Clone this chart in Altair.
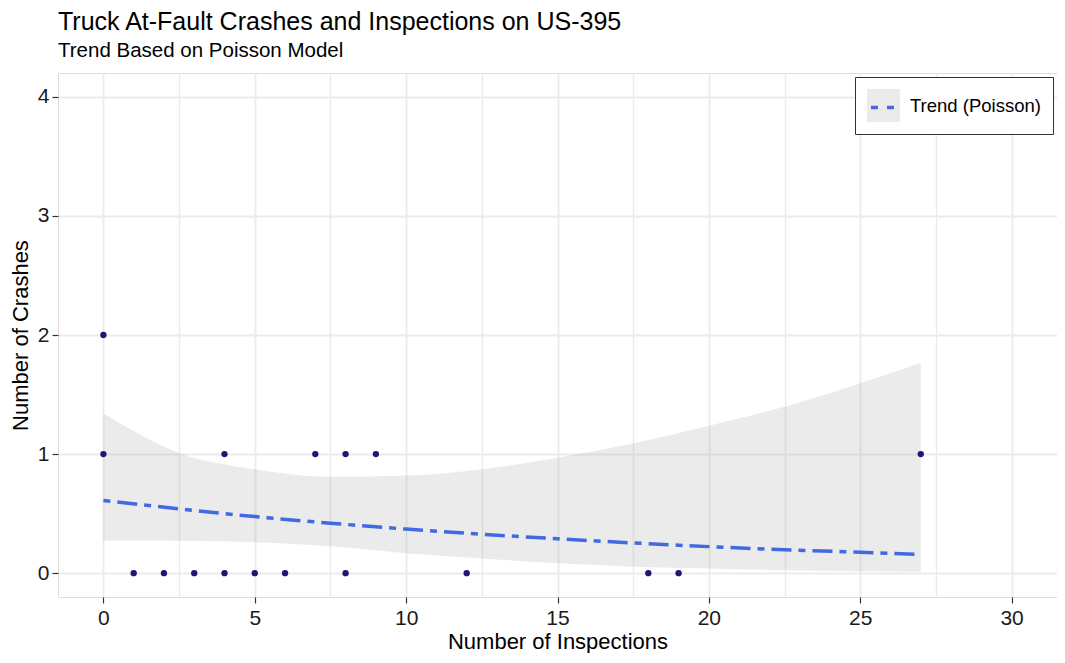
import altair as alt
import pandas as pd

# Observed data
inspections = [0, 0, 1, 2, 3, 4, 4, 5, 6, 7, 8, 8, 9, 12, 18, 19, 27]
crashes = [2, 1, 0, 0, 0, 1, 0, 0, 0, 1, 1, 0, 1, 0, 0, 0, 1]

# Poisson trend and confidence band
trend_x = [0, 2.5, 5, 7.5, 10, 12.5, 15, 17.5, 20, 22.5, 25, 27]
trend_fit = [0.61, 0.54, 0.475, 0.42, 0.37, 0.327, 0.289, 0.254, 0.223, 0.197, 0.176, 0.158]
trend_lo = [0.275, 0.273, 0.259, 0.226, 0.168, 0.124, 0.083, 0.055, 0.039, 0.025, 0.016, 0.011]
trend_hi = [1.34, 1.01, 0.873, 0.81, 0.82, 0.873, 0.97, 1.088, 1.237, 1.397, 1.595, 1.768]

series_label = "Trend (Poisson)"

pts = pd.DataFrame({"x": inspections, "y": crashes})
trend = pd.DataFrame({
    "x": trend_x, "fit": trend_fit, "lo": trend_lo, "hi": trend_hi,
    "series": [series_label] * len(trend_x),
})

FONT = "Liberation Sans"

x_vals = [i * 2.5 for i in range(13)]
y_vals = [i * 0.5 for i in range(9)]

x_scale = alt.Scale(domain=[-1.5, 31.5], nice=False, zero=False)
y_scale = alt.Scale(domain=[-0.2, 4.2], nice=False, zero=False)

def make_axis(title, values, test, label_pad, title_pad):
    return alt.Axis(
        title=title,
        values=values,
        format="d",
        labelExpr=f"{test} ? datum.label : ''",
        labelOverlap=False,
        labelFlush=False,
        labelPadding=label_pad,
        grid=True,
        gridColor="#EBEBEB",
        gridWidth={"condition": {"test": test, "value": 1.8}, "value": 1.4},
        tickOpacity={"condition": {"test": test, "value": 1}, "value": 0},
        tickColor="#333333",
        tickWidth=1.2,
        tickSize=6,
        domain=False,
        labelFont=FONT,
        labelFontSize=21,
        labelColor="#1A1A1A",
        titleFont=FONT,
        titleFontSize=22,
        titleFontWeight="normal",
        titleColor="#000000",
        titlePadding=title_pad,
    )

x_axis = make_axis("Number of Inspections", x_vals, "datum.value % 5 === 0", 4, 3)
y_axis = make_axis("Number of Crashes", y_vals, "datum.value % 1 === 0", 3, 5)

band = alt.Chart(trend).mark_area(opacity=0.2, interpolate="monotone").encode(
    x=alt.X("x:Q", scale=x_scale, axis=x_axis),
    y=alt.Y("lo:Q", scale=y_scale, axis=y_axis),
    y2="hi:Q",
    fill=alt.Fill(
        "series:N",
        scale=alt.Scale(range=["#999999"]),
        legend=alt.Legend(
            title=None, orient="none", legendX=797, legendY=4,
            symbolType="square", symbolSize=1089, symbolOpacity=0.2,
            symbolStrokeWidth=0,
            labelFont=FONT, labelFontSize=18.5, labelColor="#000000",
            labelOffset=10, padding=12, strokeColor="#333333",
            fillColor="#FFFFFF",
        ),
    ),
)

line = alt.Chart(trend).mark_line(
    strokeWidth=3.5, strokeDash=[7, 7, 20, 7], strokeCap="butt", interpolate="monotone"
).encode(
    x=alt.X("x:Q", scale=x_scale),
    y=alt.Y("fit:Q", scale=y_scale),
    stroke=alt.Stroke(
        "series:N",
        scale=alt.Scale(range=["#4169E1"]),
        legend=alt.Legend(
            title=None, orient="none", legendX=797, legendY=4,
            symbolType="stroke", symbolSize=1089, symbolStrokeWidth=3.5,
            symbolDash=[7, 9], symbolDashOffset=-2, symbolStrokeColor="#4169E1",
            labelFont=FONT, labelFontSize=18.5, labelExpr="''",
            labelOffset=10, padding=12,
        ),
    ),
)

points = alt.Chart(pts).mark_circle(size=40, color="#191970", opacity=1).encode(
    x=alt.X("x:Q", scale=x_scale),
    y=alt.Y("y:Q", scale=y_scale),
)

chart = alt.layer(band, line, points).resolve_legend(fill="independent", stroke="independent").properties(
    width=999,
    height=524,
    autosize=alt.AutoSizeParams(type="none"),
    padding={"left": 50, "top": 65, "right": 0, "bottom": 56},
    title=alt.TitleParams(
        text="Truck At-Fault Crashes and Inspections on US-395",
        subtitle="Trend Based on Poisson Model",
        anchor="start",
        frame="group",
        font=FONT,
        fontSize=25,
        fontWeight="normal",
        color="#000000",
        subtitleFont=FONT,
        subtitleFontSize=20.5,
        subtitleColor="#000000",
        subtitlePadding=6,
        offset=12,
    ),
).configure_view(
    stroke="#333333", strokeWidth=1.3
).configure(background="#FFFFFF")

chart.save("out.html", embed_options={"renderer": "svg", "actions": False})
